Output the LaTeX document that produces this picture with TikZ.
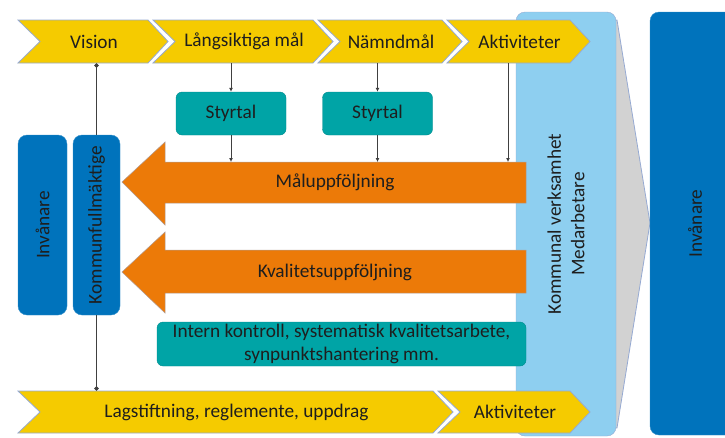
\documentclass[tikz,border=0pt]{standalone}
\usepackage{fontspec}
\setmainfont{Carlito}
\usepackage{xcolor}
\usetikzlibrary{arrows.meta, positioning}

\definecolor{chevyellow}{RGB}{245,203,0}
\definecolor{chevline}{RGB}{150,170,210}
\definecolor{orangearr}{RGB}{236,122,8}
\definecolor{tealbox}{RGB}{0,164,166}
\definecolor{lightblue}{RGB}{142,207,240}
\definecolor{darkblue}{RGB}{0,115,188}
\definecolor{fadegray}{RGB}{210,210,210}
\definecolor{textdark}{RGB}{30,30,30}

\tikzset{
  chevshape/.style={fill=chevyellow, draw=chevline, line width=0.8pt},
  chevtext/.style={inner sep=0pt, text=textdark},
  bluebar/.style={fill=darkblue, draw=darkblue!80!white, rounded corners=9pt, text=textdark, inner sep=0pt},
  styrbox/.style={fill=tealbox, draw=tealbox!85!black, line width=0.4pt, rounded corners=6pt,
    minimum width=110pt, minimum height=43pt, inner sep=0pt, text=textdark},
  arrowshape/.style={fill=orangearr, draw=chevline!70!orangearr, line width=0.5pt},
  link/.style={draw=black!75, line width=0.8pt},
  downtip/.style={-{Latex[length=4pt,width=4pt]}},
  dottip/.style={-{Circle[length=4.5pt]}}
}

% chevron: name, left, right, top, bottom, text
\newcommand{\chevron}[6]{%
  \draw[chevshape] (#2,#4) -- (#3-20,#4) -- (#3,{(#4+#5)/2}) -- (#3-20,#5) -- (#2,#5) -- (#2+22,{(#4+#5)/2}) -- cycle;
  \node[chevtext, minimum height=#5-#4] (#1) at ({(#2+#3)/2+1},{(#4+#5)/2}) {#6};
}

\begin{document}
\begin{tikzpicture}[x=1pt, y=-1pt, font=\fontsize{19.3}{23.5}\selectfont]
  \useasboundingbox (0,0) rectangle (725,437);

  % verksamhet and residents on the right
  \draw[fill=fadegray, draw=chevline, line width=0.8pt] (600,20) -- (617,20) -- (650,223) -- (617,428) -- (600,428) -- cycle;
  \node[bluebar, fill=lightblue, draw=chevline, rotate=90, minimum width=424pt, minimum height=100pt, align=center] (verks) at (566,224) {Kommunal verksamhet\\Medarbetare};
  \node[bluebar, rotate=90, minimum width=423pt, minimum height=90pt] (invright) at (695,223.5) {Invånare};

  % top row
  \chevron{vision}{18}{168}{20}{63}{Vision}
  \chevron{lang}{153}{333}{20}{63}{Långsiktiga mål}
  \chevron{namnd}{318}{462}{20}{63}{Nämndmål}
  \chevron{akt}{447}{590}{20}{63}{Aktiviteter}

  % bottom row
  \chevron{lag}{18}{453}{391}{433}{Lagstiftning, reglemente, uppdrag}
  \chevron{aktb}{438}{590}{391}{433}{Aktiviteter}

  % left bars
  \node[bluebar, rotate=90, minimum width=180pt, minimum height=49pt] (invleft) at (42.5,225) {Invånare};
  \node[bluebar, rotate=90, minimum width=180pt, minimum height=47pt] (kf) at (96.5,225) {Kommunfullmäktige};

  % Styrtal
  \node[styrbox] (sty1) at (231,113.5) {Styrtal};
  \node[styrbox] (sty2) at (377.5,113.5) {Styrtal};

  % follow-up arrows
  \draw[arrowshape] (526,162) -- (165,162) -- (165,142) -- (122,182) -- (165,225) -- (165,203) -- (526,203) -- cycle;
  \node[chevtext] (malu) at (335,182) {Måluppföljning};
  \draw[arrowshape] (526,250) -- (165,250) -- (165,232) -- (122,272) -- (165,313) -- (165,293) -- (526,293) -- cycle;
  \node[chevtext] (kval) at (335,272) {Kvalitetsuppföljning};

  \node[styrbox, minimum width=369pt, minimum height=44pt, align=center] (intern) at (341.5,344)
    {Intern kontroll, systematisk kvalitetsarbete,\\synpunktshantering mm.};

  % connectors
  \coordinate (malTop) at (508,162);
  \draw[link, downtip] (sty1.north |- lang.south) -- (sty1.north);
  \draw[link, downtip] (sty1.south) -- (sty1.south |- malTop);
  \draw[link, downtip] (sty2.north |- namnd.south) -- (sty2.north);
  \draw[link, downtip] (sty2.south) -- (sty2.south |- malTop);
  \draw[link, downtip] (malTop |- akt.south) -- (malTop);
  \draw[link, dottip] (kf.east) -- (kf.east |- vision.south);
  \draw[link, dottip] (kf.west) -- (kf.west |- lag.north);
\end{tikzpicture}
\end{document}
